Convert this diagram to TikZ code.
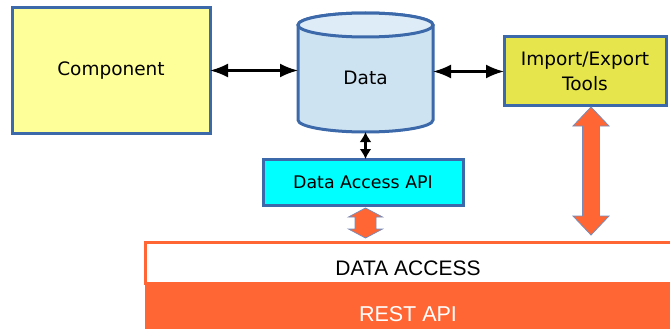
\documentclass[tikz,border=0pt]{standalone}
\usepackage{fontspec}
\setmainfont{DejaVu Sans}
\newfontfamily\layerfont{Liberation Sans}
\usetikzlibrary{positioning, calc, arrows.meta}
\definecolor{bordblue}{RGB}{60,105,170}
\definecolor{compyellow}{RGB}{255,255,153}
\definecolor{toolyellow}{RGB}{230,230,76}
\definecolor{cylbody}{RGB}{206,227,242}
\definecolor{cyltop}{RGB}{222,236,248}
\definecolor{apicyan}{RGB}{0,255,255}
\definecolor{restorange}{RGB}{255,102,51}
\definecolor{arrowedge}{RGB}{120,140,185}
\tikzset{
    box/.style={
        draw = bordblue, line width = 3pt,
        outer sep = 0pt, align = center,
        font = \fontsize{18.5}{25}\selectfont
    },
    link/.style = {{Latex[length=18pt,width=14pt]}-{Latex[length=18pt,width=14pt]}, line width=2.2pt},
    shortlink/.style = {{Latex[length=10pt,width=12pt]}-{Latex[length=10pt,width=12pt]}, line width=2.2pt},
    blockarr/.style = {fill=restorange, draw=arrowedge, line width=0.8pt},
    layer/.style = {outer sep=0pt, minimum width=526pt, inner sep=0pt}
}
% tip top, tip bottom, half head, half shaft, head length
\newcommand{\blockarrow}[5]{%
    \draw[blockarr] (#1) -- ($(#1)+(#3,#5)$) -- ($(#1)+(#4,#5)$)
        -- ($(#2)+(#4,-#5)$) -- ($(#2)+(#3,-#5)$) -- (#2)
        -- ($(#2)+(-#3,-#5)$) -- ($(#2)+(-#4,-#5)$)
        -- ($(#1)+(-#4,#5)$) -- ($(#1)+(-#3,#5)$) -- cycle;}

\begin{document}
\begin{tikzpicture}[x=1pt, y=-1pt]

    \useasboundingbox (0,0) rectangle (670,329);
    \clip (0,0) rectangle (670,329);

    % Component
    \node[box, fill=compyellow, minimum width=198pt, minimum height=125pt] (comp) at (111,70.5) {Component};

    % Data store
    \node[outer sep=0pt, minimum width=135pt, minimum height=119pt, right = 88pt of comp, yshift=-2pt] (data) {};
    \filldraw[draw=bordblue, fill=cylbody, line width=3pt]
        ([yshift=-12pt]data.north west) -- ([yshift=12pt]data.south west)
        arc[start angle=180, end angle=360, x radius=67.5pt, y radius=12pt]
        -- ([yshift=-12pt]data.north east)
        arc[start angle=0, end angle=180, x radius=67.5pt, y radius=12pt] -- cycle;
    \filldraw[draw=bordblue, fill=cyltop, line width=3pt]
        ([yshift=-12pt]data.north) ellipse[x radius=67.5pt, y radius=12pt];
    \node[font=\fontsize{18.5}{25}\selectfont] (datatext) at ([yshift=-5.5pt]data.center) {Data};

    % Import/Export tools
    \node[box, fill=toolyellow, minimum width=162pt, minimum height=69pt, right = 71pt of data, yshift=1pt] (tools) {Import/Export\\Tools};

    % Data Access API
    \node[box, fill=apicyan, minimum width=200pt, minimum height=46pt,
        font=\fontsize{17.4}{22}\selectfont, below = 27pt of data, xshift=-2.5pt] (api) {Data Access API};

    % Bottom layers
    \node[layer, fill=white, draw=restorange, line width=3pt, minimum height=41pt,
        label={[font=\layerfont\fontsize{21}{25}\selectfont, yshift=-6pt]center:DATA ACCESS}] (access) at (408,262.5) {};
    \node[layer, fill=restorange, minimum height=62pt, text=white,
        font=\layerfont\fontsize{21.5}{25}\selectfont, below = 0pt of access] (rest) {REST API};

    % Lines
    \draw[link] (comp.east) -- (comp.east -| data.west);
    \draw[link] (data.east |- tools.west) -- (tools.west);
    \draw[shortlink] (data.south) -- (data.south |- api.north);

    % Block arrows
    \coordinate (smalltop) at ($(api.south)+(2.5,3)$);
    \coordinate (smallbot) at ($(access.north -| smalltop)+(0,-4)$);
    \blockarrow{smalltop}{smallbot}{17}{10.5}{9}
    \coordinate (bigtop) at ($(tools.south)+(6,1)$);
    \coordinate (bigbot) at ($(access.north -| bigtop)+(0,-7)$);
    \blockarrow{bigtop}{bigbot}{18}{8.5}{19}

\end{tikzpicture}
\end{document}
